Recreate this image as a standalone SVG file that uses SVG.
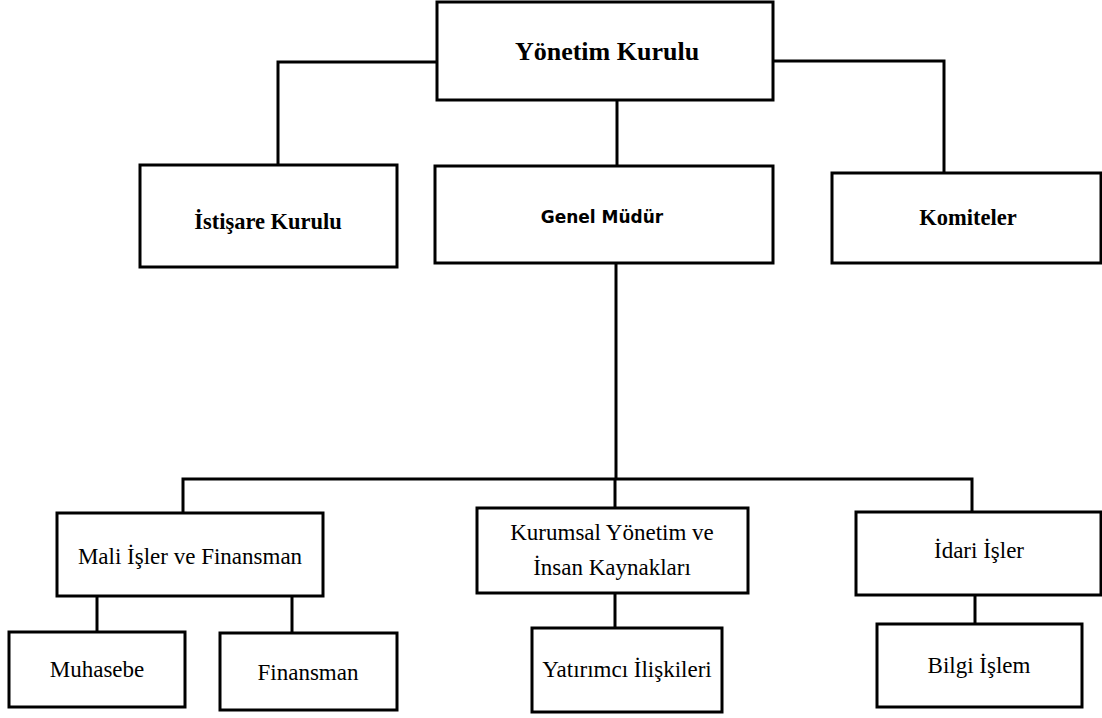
<svg xmlns="http://www.w3.org/2000/svg" width="1102" height="718" viewBox="0 0 1102 718">
<style>
.box{fill:#fff;stroke:#000;stroke-width:3}
.con{fill:none;stroke:#000;stroke-width:3}
.t{font-family:"Liberation Serif","Times New Roman",serif;font-size:23px;fill:#000;text-anchor:middle}
.b{font-family:"Liberation Serif","Times New Roman",serif;font-size:22.5px;font-weight:bold;fill:#000;text-anchor:middle}
.s{font-family:"DejaVu Sans",sans-serif;font-size:17px;font-weight:bold;fill:#000;text-anchor:middle}
</style>
<rect width="1102" height="718" fill="#fff"/>
<g id="connectors">
<path class="con" d="M437,62 H278 V164"/>
<path class="con" d="M773,61 H944 V173"/>
<path class="con" d="M617,100 V166"/>
<path class="con" d="M616,263 V480"/>
<path class="con" d="M183,513 V479 H972 V512"/>
<path class="con" d="M615,479 V508"/>
<path class="con" d="M97,596 V632"/>
<path class="con" d="M292,596 V633"/>
<path class="con" d="M615,593 V628"/>
<path class="con" d="M975,595 V624"/>
</g>
<g id="yonetim-kurulu">
<rect class="box" x="437" y="2" width="336" height="98"/>
<text class="b" x="607" y="60" style="font-size:26px">Yönetim Kurulu</text>
</g>
<g id="istisare-kurulu">
<rect class="box" x="140" y="165" width="257" height="102"/>
<text class="b" x="268" y="229">İstişare Kurulu</text>
</g>
<g id="genel-mudur">
<rect class="box" x="435" y="166" width="338" height="97"/>
<text class="s" x="602" y="223">Genel Müdür</text>
</g>
<g id="komiteler">
<rect class="box" x="832" y="173" width="269" height="90"/>
<text class="b" x="968" y="225">Komiteler</text>
</g>
<g id="mali-isler">
<rect class="box" x="57" y="513" width="266" height="83"/>
<text class="t" x="190" y="564">Mali İşler ve Finansman</text>
</g>
<g id="kurumsal-yonetim">
<rect class="box" x="477" y="508" width="271" height="85"/>
<text class="t" x="612" y="540">Kurumsal Yönetim ve</text>
<text class="t" x="612" y="575">İnsan Kaynakları</text>
</g>
<g id="idari-isler">
<rect class="box" x="856" y="512" width="245" height="83"/>
<text class="t" x="979" y="558">İdari İşler</text>
</g>
<g id="muhasebe">
<rect class="box" x="9" y="632" width="176" height="75"/>
<text class="t" x="97" y="677">Muhasebe</text>
</g>
<g id="finansman">
<rect class="box" x="220" y="633" width="177" height="77"/>
<text class="t" x="308" y="680">Finansman</text>
</g>
<g id="yatirimci-iliskileri">
<rect class="box" x="532" y="628" width="190" height="84"/>
<text class="t" x="627" y="677">Yatırımcı İlişkileri</text>
</g>
<g id="bilgi-islem">
<rect class="box" x="877" y="624" width="205" height="83"/>
<text class="t" x="979" y="673">Bilgi İşlem</text>
</g>
</svg>
